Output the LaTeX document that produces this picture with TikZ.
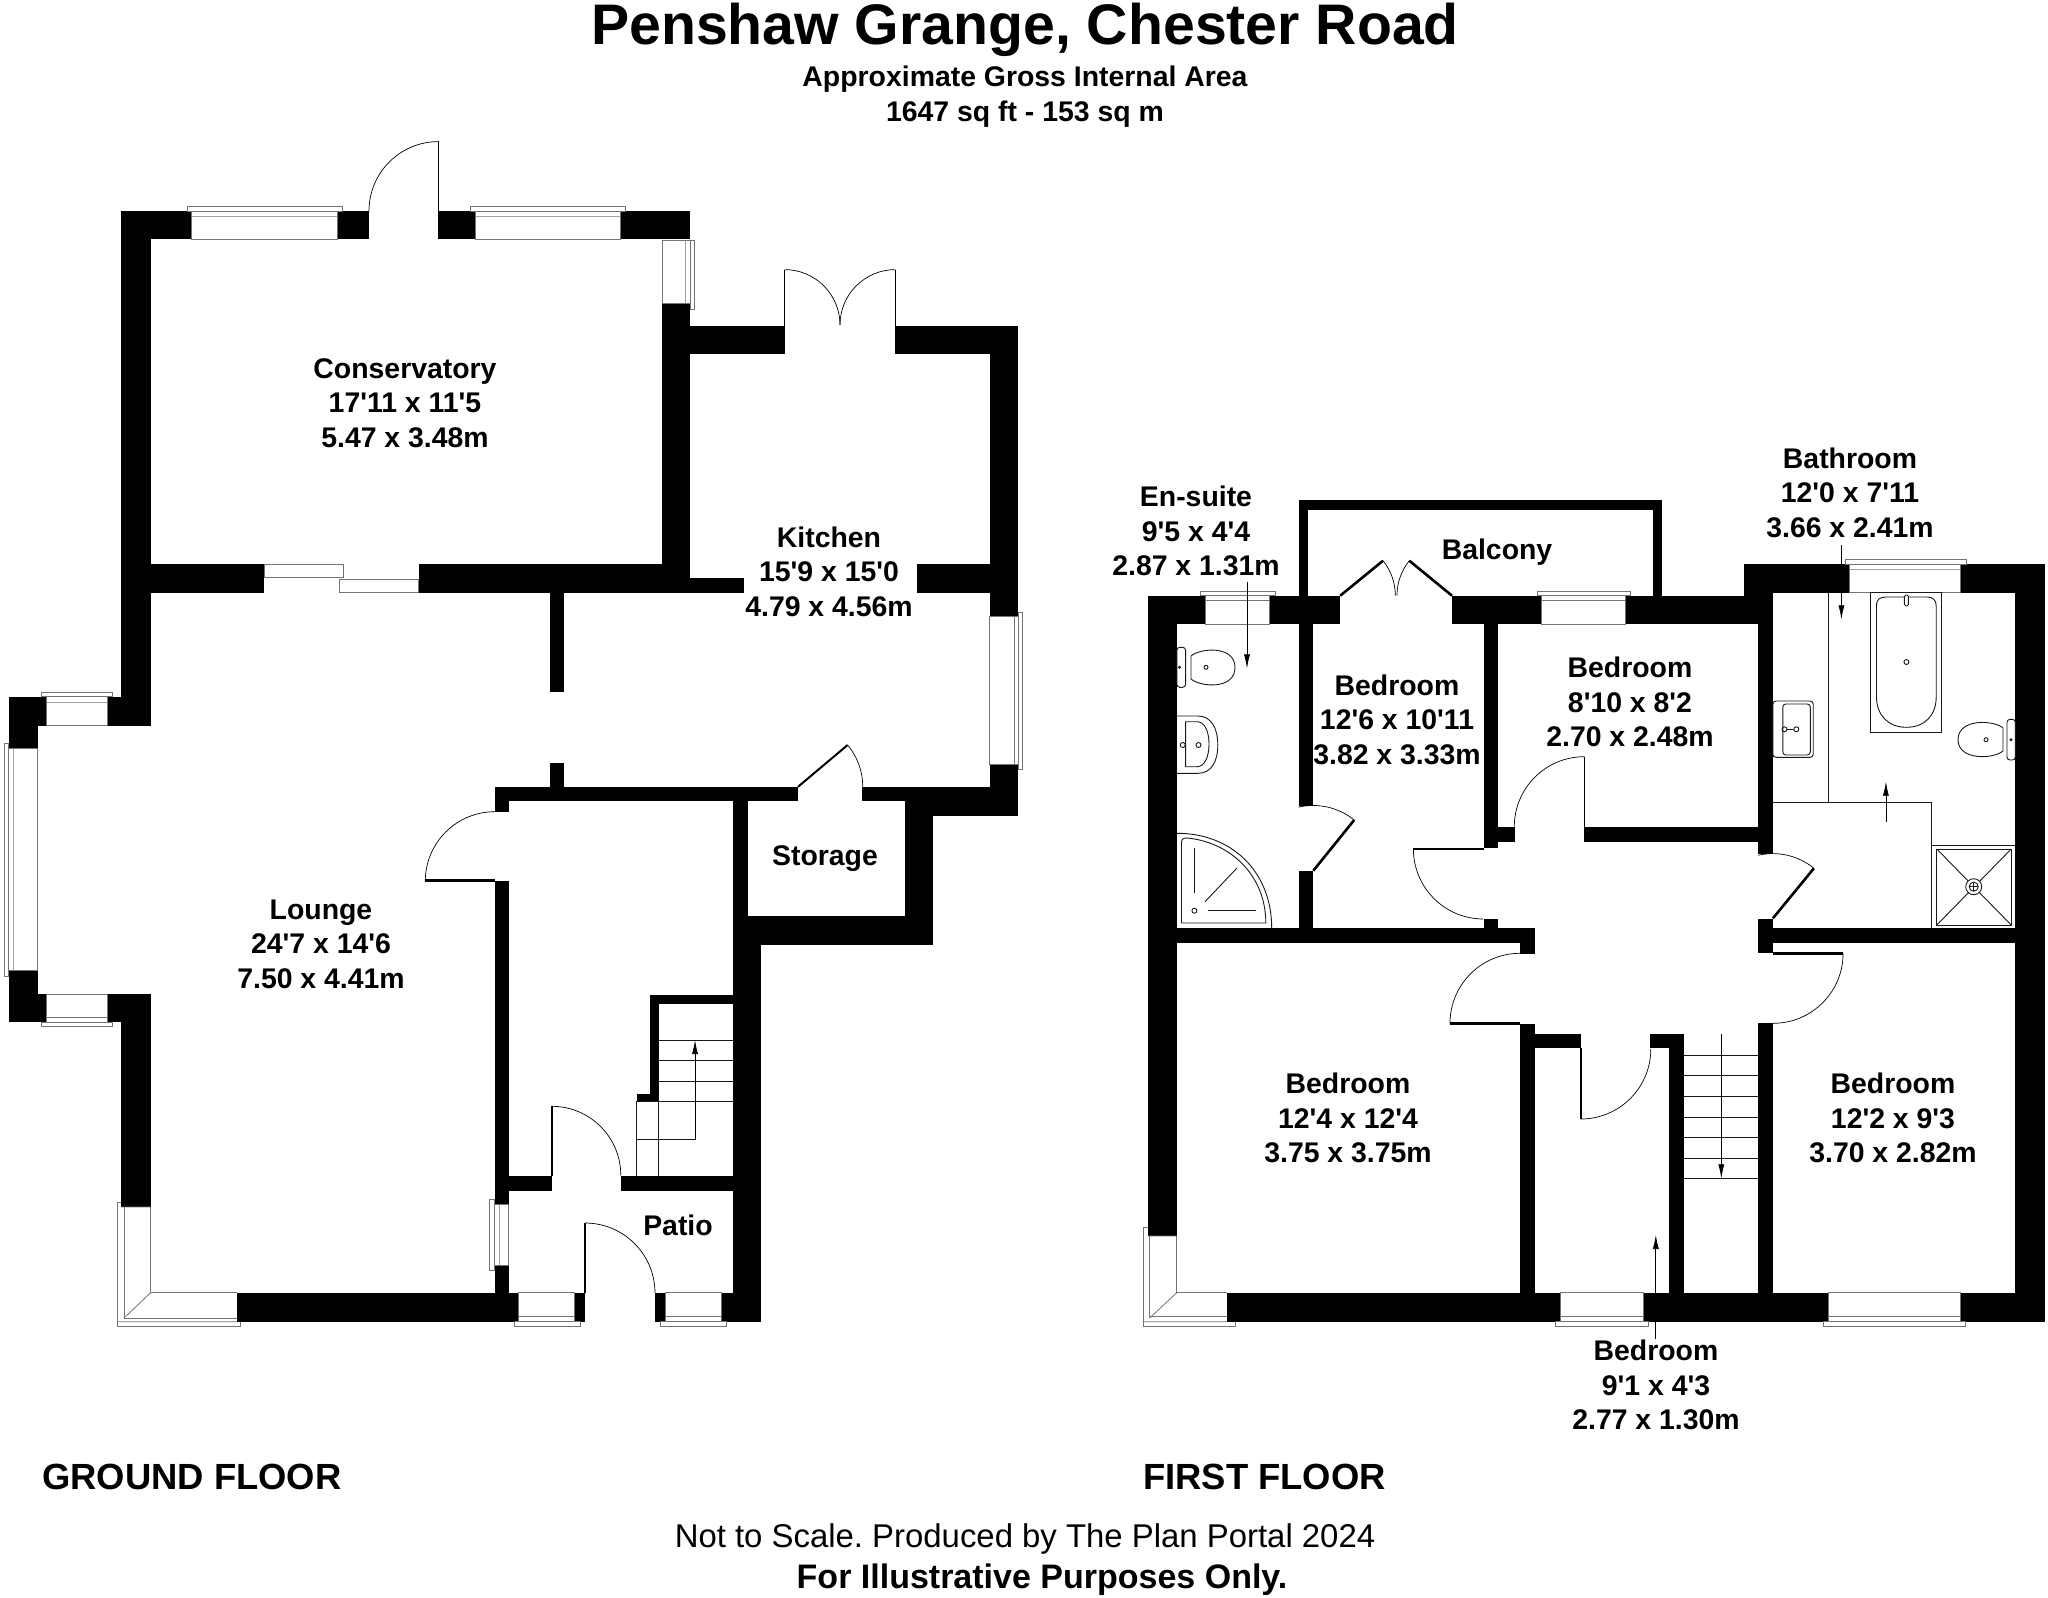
\documentclass[tikz,border=0pt]{standalone}
\usepackage{fontspec}
\newfontfamily\planfont{Liberation Sans}
\frenchspacing
\tikzset{
  wall/.style={fill=black},
  glass/.style={draw=black!55, line width=0.8pt},
  swing/.style={draw=black, line width=0.7pt},
  leaf/.style={draw=black, line width=1.4pt},
  thickleaf/.style={draw=black, line width=2.6pt},
  fixture/.style={draw=black!90, line width=0.9pt},
  leader/.style={draw=black, line width=0.7pt, -{Latex[length=14pt,width=6pt]}},
  roomtext/.style={font=\planfont\bfseries\fontsize{28.4}{34.6}\selectfont, align=center, inner sep=0pt},
  floortext/.style={font=\planfont\bfseries\fontsize{36.4}{40}\selectfont, anchor=west, inner sep=0pt}
}
\usetikzlibrary{arrows.meta}
\begin{document}
\begin{tikzpicture}[x=1pt, y=-1pt]
\path[use as bounding box, fill=white] (0,0) rectangle (2048,1598);
% walls of the ground floor
\foreach \xa/\ya/\xb/\yb in {121.4/211/191/239.3, 337/211/369/239.3, 438.4/211/475.6/239.3, 620/211/690/239.3,
  121.4/211/150.6/725.8, 107.4/696.8/150.6/725.8, 8.6/696.8/46.4/725.8, 8.6/725.8/37.8/748,
  8.6/970.5/37.8/994, 8.6/994/46.4/1022, 107.4/994/150.6/1022, 121.4/1022/150.6/1207,
  662/303.4/690/592.7, 690/325.5/784.6/353.7, 895.4/325.5/1018/353.7,
  989.6/353.7/1018/616.5, 989.6/764.6/1018/815.5,
  150.6/564/264/592.7, 418.5/564/690/592.7, 690/577.5/743.5/592.7, 916.6/564/989.6/592.7,
  550/592.7/563.8/691.6, 550/763/563.8/786.8,
  494.8/786.8/798/801.3, 862/786.8/989.6/801.3, 904.7/801.3/933/944.5, 933/786.8/1018/815.5,
  733/801.3/747.5/915.8, 733/915.8/933/944.5, 733/944.5/761.4/1321.8,
  494.8/786.8/508.7/811.7, 494.8/880.5/508.7/1204, 494.8/1265/508.7/1321.8,
  650/995.4/733/1003.8, 650/995.4/658.6/1101.4, 636.7/1094/658.6/1101.4,
  508.7/1176.4/551.8/1191, 620.8/1176.4/733/1191,
  236.8/1292.7/518.7/1321.8, 574.4/1292.7/585/1321.8, 655.3/1292.7/665.3/1321.8, 721/1292.7/761.4/1321.8}
  \fill[wall] (\xa,\ya) rectangle (\xb,\yb);
% walls of the first floor
\foreach \xa/\ya/\xb/\yb in {1147.6/595.7/1205/624.3, 1269.3/595.7/1340.2/624.3, 1452/595.7/1541.6/624.3, 1625.3/595.7/1772.9/624.3,
  1147.6/595.7/1176.8/1236,
  1299.2/500/1662.2/510.3, 1299.2/500/1308/595.7, 1652.8/500/1662.2/595.7,
  1744.2/564/1849.5/592.7, 1744.2/592.7/1772.9/624.3, 1960.8/564/2045/592.7, 2015.3/564/2045/1321.7,
  1299.2/624.3/1313.3/805.7, 1299.2/870.7/1313.3/928.3,
  1483.6/624.3/1497.7/848.3, 1483.6/919/1497.7/928.3, 1497.7/827.3/1514.7/842.3, 1584.3/827.3/1758.2/842.3,
  1758.2/624.3/1772.9/854, 1758.2/919/1772.9/953.3,
  1176.8/928.3/1535.2/943.3, 1772.9/928.3/2015.3/943.3, 1520/943.3/1535.2/954.3, 1520/1024/1535.2/1321.7,
  1535.2/1034.3/1580.8/1048.3, 1649.9/1034.3/1683.9/1048.3, 1669.2/1034.3/1683.9/1321.7, 1758.2/1023.3/1772.9/1321.7,
  1226.6/1292.7/1560.3/1321.7, 1643.5/1292.7/1827.9/1321.7, 1960.2/1292.7/2045/1321.7}
  \fill[wall] (\xa,\ya) rectangle (\xb,\yb);
% windows, frames and panes
\foreach \xa/\ya/\xb/\yb in {187/206/342/211, 191/211/337/239.3, 191/216/337/216,
  470/206/625.5/211, 475.6/211/620/239.3, 475.6/216/620/216,
  690/240/694.4/309, 662/240/690/303.4, 685/240/685/303.4,
  264/564/343.6/577.5, 339/579/418.5/592,
  1018/612/1022.8/769, 989.6/616.5/1018/764.6, 1014/616.5/1014/764.6,
  41/692.4/112.8/696.8, 46.4/696.8/107.4/725.8, 46.4/702/107.4/702,
  4.6/743.6/8.6/976, 8.6/748/37.8/970.5, 13/748/13/970.5,
  41/1022/112.8/1026.7, 46.4/994/107.4/1022, 46.4/1017/107.4/1017,
  489.5/1199.3/494.8/1270, 494.8/1204/508.7/1265, 499/1204/499/1265,
  514/1321.8/580/1326.4, 518.7/1292.7/574.4/1321.8, 518.7/1316/574.4/1316,
  660/1321.8/726/1326.4, 665.3/1292.7/721/1321.8, 665.3/1316/721/1316,
  1200.3/591.7/1275.2/595.7, 1205/595.7/1269.3/624.3, 1205/600.7/1269.3/600.7,
  1537/591.7/1630.6/595.7, 1541.6/595.7/1625.3/624.3, 1541.6/600.7/1625.3/600.7,
  1845/559.3/1966/564, 1849.5/564/1960.8/592.7, 1849.5/569/1960.8/569,
  1555.6/1321.7/1648.7/1326.7, 1560.3/1292.7/1643.5/1321.7, 1560.3/1316.7/1643.5/1316.7,
  1823.8/1321.7/1965.5/1326.7, 1827.9/1292.7/1960.2/1321.7, 1827.9/1316.7/1960.2/1316.7}
  \draw[glass] (\xa,\ya) rectangle (\xb,\yb);
% corner windows
\draw[glass] (121.4,1202.8) -- (117.4,1202.8) -- (117.4,1326.4) -- (240.8,1326.4) -- (240.8,1321.8);
\draw[glass] (150.6,1207) -- (150.6,1292.7) -- (236.8,1292.7);
\draw[glass] (124,1207) -- (124,1318) -- (236.8,1318);
\draw[glass] (121.4,1207) -- (150.6,1207) (150.6,1292.7) -- (124,1318) (117.4,1321.8) -- (236.8,1321.8);
\draw[glass] (1147.6,1227.7) -- (1142.9,1227.7) -- (1142.9,1326.7) -- (1235.4,1326.7) -- (1235.4,1321.7);
\draw[glass] (1176.8,1236) -- (1176.8,1292.7) -- (1226.6,1292.7);
\draw[glass] (1149.3,1236) -- (1149.3,1316.7) -- (1226.6,1316.7);
\draw[glass] (1147.6,1236) -- (1176.8,1236) (1176.8,1292.7) -- (1149.3,1318.3) (1142.9,1321.7) -- (1226.6,1321.7);
% doors of the ground floor
\draw[leaf] (438.4,141) -- (438.4,211);
\draw[swing] (369,211) arc[start angle=180, end angle=90, radius=69.4pt];
\draw[leaf] (784.6,269.6) -- (784.6,325.5);
\draw[swing] (784.6,269.6) arc[start angle=90, end angle=0, radius=55.4pt];
\draw[leaf] (895.4,269.6) -- (895.4,325.5);
\draw[swing] (895.4,269.6) arc[start angle=90, end angle=180, radius=55.4pt];
\draw[thickleaf] (424.5,880.5) -- (494.8,880.5);
\draw[swing] (494.8,811.7) arc[start angle=90, end angle=180, radius=69.5pt];
\draw[leaf, line width=2pt] (798,786.8) -- (847.6,745);
\draw[swing] (847.6,745) arc[start angle=40, end angle=0, radius=64.8pt];
\draw[leaf] (551.8,1106.3) -- (551.8,1176.4);
\draw[swing] (551.8,1106.3) arc[start angle=90, end angle=0, radius=69pt];
\draw[leaf] (585,1223) -- (585,1292.7);
\draw[swing] (585,1223) arc[start angle=90, end angle=0, radius=70pt];
% doors of the first floor
\draw[thickleaf] (1340.2,595.7) -- (1383,560.7);
\draw[swing] (1383,560.7) arc[start angle=39, end angle=0, radius=55.3pt];
\draw[thickleaf] (1452,595.7) -- (1409.3,560.7);
\draw[swing] (1409.3,560.7) arc[start angle=141, end angle=180, radius=55.3pt];
\draw[thickleaf] (1313.3,870.7) -- (1354.2,820);
\draw[swing] (1354.2,820) arc[start angle=51, end angle=103, radius=65.2pt];
\draw[thickleaf] (1413.4,849) -- (1483.6,849);
\draw[swing] (1413.4,849) arc[start angle=180, end angle=270, radius=70pt];
\draw[leaf] (1584.3,756.7) -- (1584.3,827.3);
\draw[swing] (1584.3,756.7) arc[start angle=90, end angle=180, radius=70pt];
\draw[thickleaf] (1772.9,918.3) -- (1813.9,868.3);
\draw[swing] (1813.9,868.3) arc[start angle=50.6, end angle=103, radius=64.7pt];
\draw[swing] (1520,953.3) arc[start angle=90, end angle=180, radius=70pt];
\draw[thickleaf] (1450,1023.3) -- (1520,1023.3);
\draw[thickleaf] (1772.9,953.3) -- (1843.1,953.3);
\draw[swing] (1843.1,953.3) arc[start angle=0, end angle=-90, radius=70pt];
\draw[leaf] (1580.8,1048.3) -- (1580.8,1119);
\draw[swing] (1580.8,1119) arc[start angle=-90, end angle=0, radius=70pt];
% stairs
\foreach \ystep in {1040,1060.8,1081.5,1101.4}
  \draw[fixture] (658.6,\ystep) -- (733,\ystep);
\draw[fixture] (636.7,1101.4) -- (658.6,1101.4);
\draw[fixture] (636.7,1101.4) -- (636.7,1176.4);
\draw[fixture] (658.6,1101.4) -- (658.6,1176.4);
\draw[fixture] (636.7,1139.6) -- (695,1139.6);
\foreach \ystep in {1055,1075.7,1096.3,1117,1137.3,1158,1178.3}
  \draw[fixture] (1683.9,\ystep) -- (1758.2,\ystep);
\coordinate (upstart) at (695,1139.6);
\coordinate (uptip) at (695,1040);
\draw[leader] (upstart) -- (uptip);
\coordinate (downstart) at (1721.3,1034.3);
\coordinate (downtip) at (1721.3,1178.3);
\draw[leader] (downstart) -- (downtip);
% bathroom fittings
\draw[fixture] (1828.4,592.7) -- (1828.4,802.3);
\draw[fixture] (1772.9,802.3) -- (1931,802.3) -- (1931,928.3);
\draw[fixture] (1931,845) -- (2015.3,845);
\draw[fixture] (1936.8,849) rectangle (2011.2,925);
\draw[fixture] (1936.8,849) -- (2011.2,925) (2011.2,849) -- (1936.8,925);
\draw[fixture, fill=white] (1973.7,886.7) circle (8pt);
\draw[fixture] (1973.7,886.7) circle (4.5pt);
\draw[fixture, line width=0.5pt] (1969.2,886.7) -- (1978.2,886.7) (1973.7,882.2) -- (1973.7,891.2);
\draw[fixture] (1870.6,592.7) rectangle (1941.5,732.3);
\draw[fixture] (1876.5,697) -- (1876.5,606) .. controls (1876.5,599) and (1880,597) .. (1886,597) -- (1927,597) .. controls (1933,597) and (1936.2,600) .. (1936.2,606) -- (1936.2,697) .. controls (1936.2,715) and (1925,727.3) .. (1906.4,727.3) .. controls (1888,727.3) and (1876.5,715) .. (1876.5,697) -- cycle;
\draw[fixture] (1906.4,662) circle (2.5pt);
\draw[fixture, fill=white, rounded corners=1.5pt] (1904.4,595) rectangle (1908.4,606);
\draw[fixture, rounded corners=3pt] (1772.9,701) rectangle (1813.2,757.3);
\draw[fixture, rounded corners=3pt] (1782.8,704) rectangle (1810.3,755);
\draw[fixture] (1784.5,729.3) circle (2.5pt) (1796.3,729.3) circle (2.5pt);
\draw[fixture] (1787,729.3) -- (1793.8,729.3);
\draw[fixture, rounded corners=3pt] (2007,719.3) rectangle (2015.3,760);
\draw[fixture] (2003,728) .. controls (1994,720) and (1958,718) .. (1958,739.7) .. controls (1958,761) and (1994,759) .. (2003,751) -- cycle;
\draw[fixture] (1986,739.7) circle (2pt);
\draw[fixture] (2011,739.7) circle (1pt);
% en-suite fittings
\draw[fixture, rounded corners=3pt] (1176.8,647.3) rectangle (1185.6,687.3);
\draw[fixture] (1191,656) .. controls (1200,648) and (1235,645) .. (1235,667.5) .. controls (1235,690) and (1200,687) .. (1191,679) -- cycle;
\draw[fixture] (1206,667.3) circle (2pt);
\draw[fixture] (1179.5,667.3) circle (1pt);
\draw[fixture] (1176.8,716) -- (1198,716) .. controls (1211,716) and (1217.8,728) .. (1217.8,745) .. controls (1217.8,762) and (1211,773.3) .. (1198,773.3) -- (1176.8,773.3);
\draw[fixture] (1185.6,721.7) -- (1197,721.7) .. controls (1205,721.7) and (1209,732) .. (1209,744) .. controls (1209,756) and (1205,766.7) .. (1197,766.7) -- (1185.6,766.7) -- cycle;
\draw[fixture] (1182.7,745) circle (2.5pt) (1198.5,745) circle (2.5pt);
\draw[fixture] (1176.8,833.3) .. controls (1230,833) and (1271.7,870) .. (1271.7,928.3);
\draw[fixture] (1181.5,923) -- (1181.5,843) .. controls (1181.5,839) and (1183,838) .. (1187,838) .. controls (1230,842) and (1265.8,875) .. (1265.8,923) -- cycle;
\draw[fixture] (1194.4,848) -- (1194.4,893);
\draw[fixture] (1237,868) -- (1205,901.7);
\draw[fixture] (1207.9,910.7) -- (1256,910.7);
\draw[fixture] (1194.4,910.7) circle (2.5pt);
% room leaders
\coordinate (ensuitestart) at (1247,581.7);
\coordinate (ensuitetip) at (1247,668.3);
\draw[leader] (ensuitestart) -- (ensuitetip);
\coordinate (bathstart) at (1841.4,545);
\coordinate (bathtip) at (1841.4,619.3);
\draw[leader] (bathstart) -- (bathtip);
\coordinate (showerstart) at (1885.9,822.3);
\coordinate (showertip) at (1885.9,781.7);
\draw[leader] (showerstart) -- (showertip);
\coordinate (boxstart) at (1655.8,1339);
\coordinate (boxtip) at (1655.8,1235);
\draw[leader] (boxstart) -- (boxtip);
% texts
\node[font=\planfont\bfseries\fontsize{57.2}{60}\selectfont, inner sep=0pt] (title) at (1025,30) {Penshaw Grange, Chester Road};
\node[roomtext] (area) at (1025,96.5) {Approximate Gross Internal Area\\1647 sq ft - 153 sq m};
\node[roomtext] (conservatory) at (405,403) {Conservatory\\17'11 x 11'5\\5.47 x 3.48m};
\node[roomtext] (kitchen) at (829,571.5) {Kitchen\\15'9 x 15'0\\4.79 x 4.56m};
\node[roomtext] (lounge) at (321,944) {Lounge\\24'7 x 14'6\\7.50 x 4.41m};
\node[roomtext] (storage) at (825,859) {Storage};
\node[roomtext] (patio) at (678,1225) {Patio};
\node[roomtext] (ensuite) at (1196,531) {En-suite\\9'5 x 4'4\\2.87 x 1.31m};
\node[roomtext] (balcony) at (1497,552.5) {Balcony};
\node[roomtext] (bedone) at (1397,719.5) {Bedroom\\12'6 x 10'11\\3.82 x 3.33m};
\node[roomtext] (bedtwo) at (1630,702) {Bedroom\\8'10 x 8'2\\2.70 x 2.48m};
\node[roomtext] (bathroom) at (1850,492.5) {Bathroom\\12'0 x 7'11\\3.66 x 2.41m};
\node[roomtext] (bedthree) at (1348,1118) {Bedroom\\12'4 x 12'4\\3.75 x 3.75m};
\node[roomtext] (bedfour) at (1893,1118) {Bedroom\\12'2 x 9'3\\3.70 x 2.82m};
\node[roomtext] (bedfive) at (1656,1385) {Bedroom\\9'1 x 4'3\\2.77 x 1.30m};
\node[floortext] (ground) at (42,1477) {GROUND FLOOR};
\node[floortext] (first) at (1143,1477) {FIRST FLOOR};
\node[font=\planfont\fontsize{32.9}{36}\selectfont, inner sep=0pt] (scale) at (1025,1539) {Not to Scale. Produced by The Plan Portal 2024};
\node[font=\planfont\bfseries\fontsize{34}{36}\selectfont, inner sep=0pt] (illustrative) at (1042,1580) {For Illustrative Purposes Only.};
\end{tikzpicture}
\end{document}
